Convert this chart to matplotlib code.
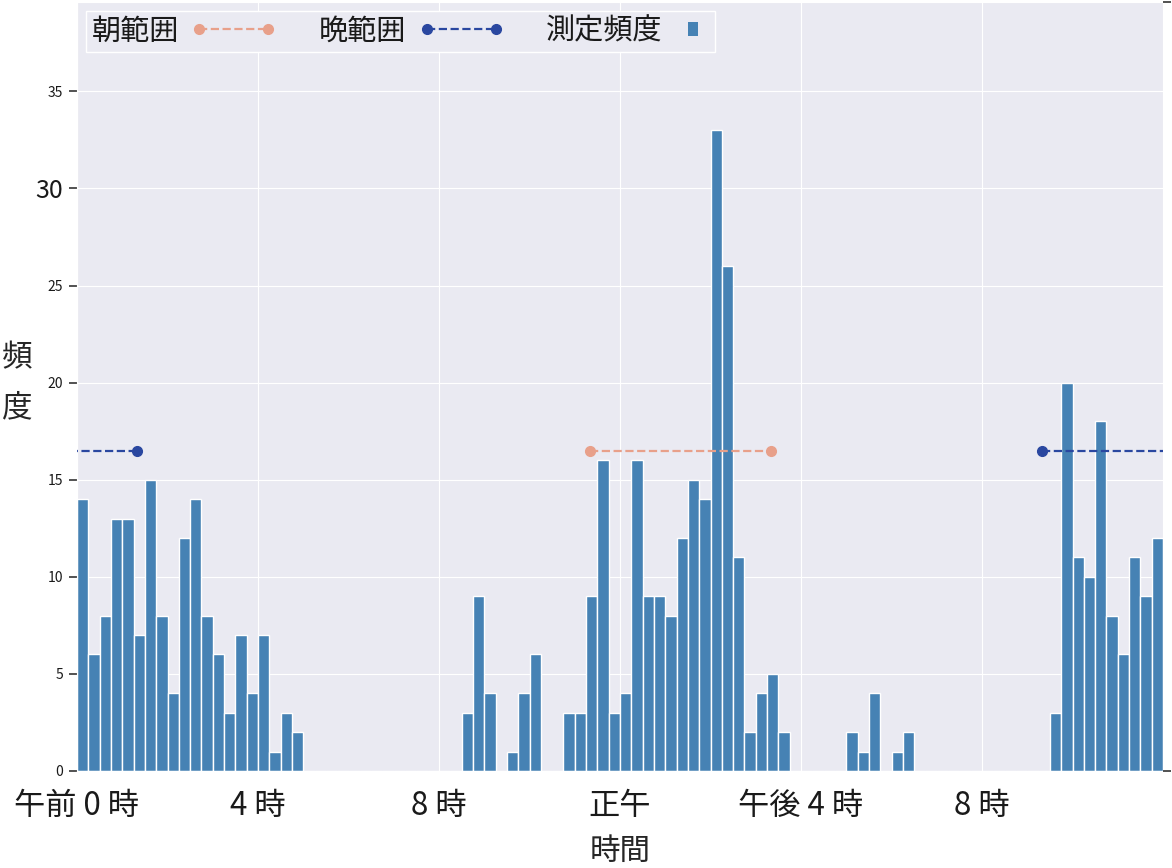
import numpy as np
import matplotlib
matplotlib.use("Agg")
import matplotlib.pyplot as plt
import seaborn as sns
from matplotlib.lines import Line2D
from matplotlib.patches import Rectangle
from matplotlib.legend_handler import HandlerBase

# データ: 15分ごとの測定頻度 (0時から24時まで96区間)
counts = [
    14, 6, 8, 13, 13, 7, 15, 8, 4, 12, 14, 8, 6, 3, 7, 4, 7, 1, 3, 2,   # 0:00-5:00
    0, 0, 0, 0, 0, 0, 0, 0, 0, 0, 0, 0, 0, 0,                           # 5:00-8:30
    3, 9, 4, 0, 1, 4, 6, 0, 0, 3, 3, 9, 16, 3, 4, 16, 9, 9, 8, 12,       # 8:30-13:30
    15, 14, 33, 26, 11, 2, 4, 5, 2,                                      # 13:30-15:45
    0, 0, 0, 0, 0, 2, 1, 4, 0, 1, 2,                                     # 15:45-18:30
    0, 0, 0, 0, 0, 0, 0, 0, 0, 0, 0, 0,                                  # 18:30-21:30
    3, 20, 11, 10, 18, 8, 6, 11, 9, 12,                                  # 21:30-24:00
]
bin_hours = 0.25

morning_range = (11 + 20 / 60, 15 + 20 / 60)   # 朝範囲
evening_range = (21 + 20 / 60, 1 + 20 / 60)    # 晩範囲 (日付をまたぐ)
range_level = 16.5

tick_hours = [0, 4, 8, 12, 16, 20]
tick_labels = ["午前 0 時", "4 時", "8 時", "正午", "午後 4 時", "8 時"]

bar_color = "#4682b4"
morning_color = "#e8a08a"
evening_color = "#2a47a0"

sns.set_style("darkgrid")
plt.rcParams["font.family"] = ["Noto Sans CJK JP", "DejaVu Sans"]
plt.rcParams["text.color"] = "#1a1a1a"
plt.rcParams["xtick.color"] = "#1a1a1a"
plt.rcParams["ytick.color"] = "#1a1a1a"

fig = plt.figure(figsize=(11.72, 8.68), dpi=100)
ax = fig.add_axes([77 / 1172, 1 - 771 / 868, 1086 / 1172, 769 / 868])

left_edges = np.arange(len(counts)) * bin_hours
ax.bar(left_edges, counts, width=bin_hours, align="edge", color=bar_color,
       edgecolor="white", linewidth=1.0, zorder=2)

# 朝範囲
ax.plot(morning_range, [range_level] * 2, ls="--", marker="o", ms=7,
        color=morning_color, lw=1.6, zorder=3)
# 晩範囲 (24時をまたぐので両端に描く)
ev_start, ev_end = evening_range
ax.plot([ev_start, ev_end + 24], [range_level] * 2, ls="--", marker="o", ms=7,
        color=evening_color, lw=1.6, zorder=3)
ax.plot([ev_start - 24, ev_end], [range_level] * 2, ls="--", marker="o", ms=7,
        color=evening_color, lw=1.6, zorder=3)

ax.set_xlim(0, 24)
ax.set_ylim(0, 39.6)
ax.set_xticks(tick_hours)
ax.set_xticklabels(tick_labels, fontsize=22.5)
ax.tick_params(axis="x", length=0, pad=14)
ax.set_yticks(range(0, 40, 5))
ax.tick_params(axis="y", left=True, length=6, width=1.2, color="#333333",
               labelsize=10, pad=4)
for lbl in ax.get_yticklabels():
    if lbl.get_text() == "30":
        lbl.set_fontsize(18)

ax.set_xlabel("時間", fontsize=22, labelpad=10)
ax.set_ylabel("頻\n度", fontsize=22, rotation=0, linespacing=1.8,
              ha="center", va="center")
ax.yaxis.set_label_coords(-0.055, 0.505)

# 右側の目盛り
ax2 = ax.twinx()
ax2.set_ylim(0, 1)
ax2.set_yticks([0, 1])
ax2.set_yticklabels([])
ax2.grid(False)
ax2.tick_params(axis="y", right=True, length=6, width=1.2, color="#333333")
for s in ax2.spines.values():
    s.set_visible(False)


class RangeHandler(HandlerBase):
    def create_artists(self, legend, orig, xdescent, ydescent, width, height,
                       fontsize, trans):
        x0 = -xdescent + 0.3 * fontsize
        x1 = x0 + 2.36 * fontsize
        y = -ydescent + height / 2
        ln = Line2D([x0, x1], [y, y], ls="--", marker="o", ms=7, lw=1.6,
                    color=orig.get_color(), transform=trans)
        return [ln]


class BarHandler(HandlerBase):
    def create_artists(self, legend, orig, xdescent, ydescent, width, height,
                       fontsize, trans):
        r = Rectangle((-xdescent + 10, -ydescent + height / 2 - 5), 7.2, 10,
                      facecolor=bar_color, edgecolor="none", transform=trans)
        return [r]


h_morning = Line2D([], [], color=morning_color)
h_evening = Line2D([], [], color=evening_color)
h_bar = Rectangle((0, 0), 1, 1, color=bar_color)
leg = ax.legend([h_morning, h_evening, h_bar], ["朝範囲", "晩範囲", "測定頻度"],
                loc="upper left", ncol=3, fontsize=21, markerfirst=False,
                handlelength=1.2, handletextpad=0.4,
                columnspacing=3.2, borderpad=0.2, borderaxespad=0.3,
                frameon=True, fancybox=False, framealpha=1.0,
                handler_map={Line2D: RangeHandler(), Rectangle: BarHandler()})
leg.get_frame().set_edgecolor("white")
leg.set_zorder(5)

fig.savefig("out.png", dpi=100)
